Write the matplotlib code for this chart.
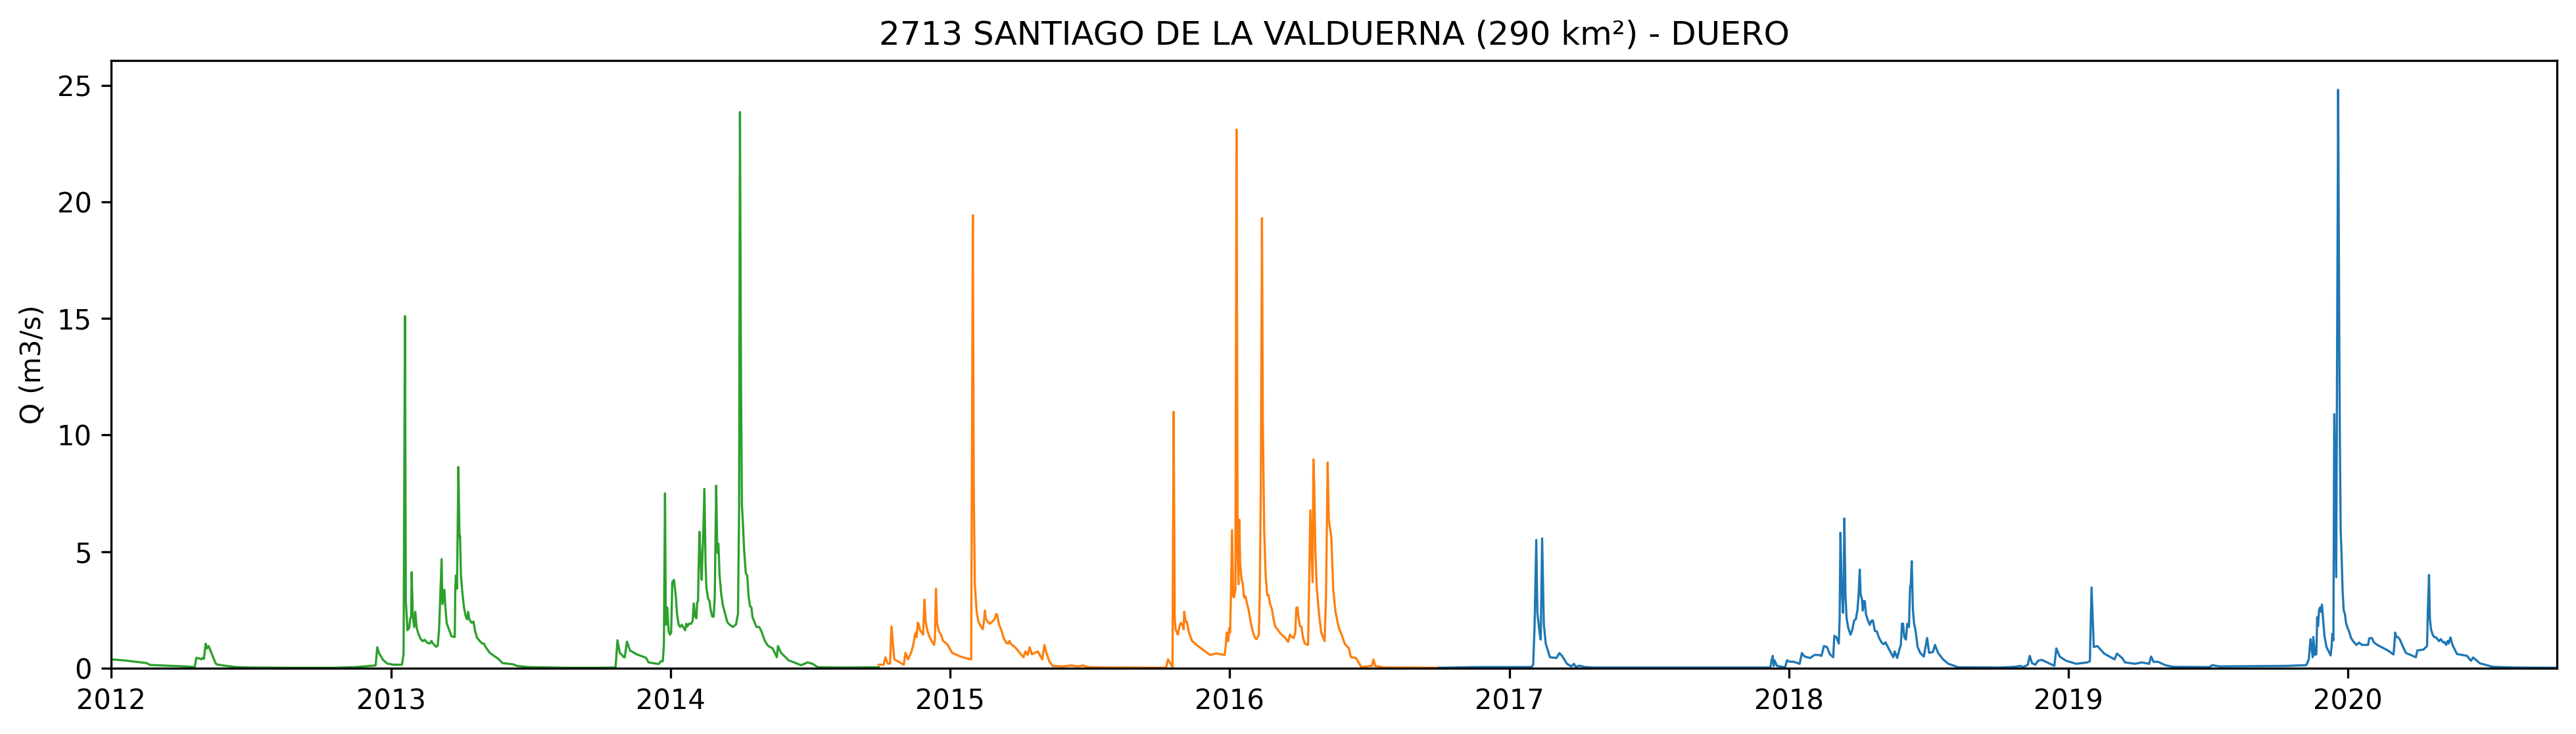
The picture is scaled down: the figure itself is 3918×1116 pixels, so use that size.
import matplotlib
matplotlib.use("Agg")
import matplotlib.pyplot as plt
import matplotlib.dates as mdates
import numpy as np
import pandas as pd

TITLE = "2713 SANTIAGO DE LA VALDUERNA (290 km²) - DUERO"
YLABEL = "Q (m3/s)"

# Decimal years and discharge
green_t = [2012.000,2012.052,2012.127,2012.139,2012.202,2012.262,2012.299,2012.305,2012.316,2012.322,2012.328,2012.332,2012.338,2012.343,2012.349,2012.359,2012.374,2012.382,2012.412,2012.449,2012.501,2012.651,2012.801,2012.876,2012.946,2012.952,2012.958,2012.973,2012.988,2013.010,2013.040,
2013.046,2013.051,2013.054,2013.060,2013.066,2013.070,2013.073,2013.075,2013.079,2013.084,2013.088,2013.093,2013.099,2013.107,2013.115,2013.121,2013.131,2013.140,2013.146,2013.151,2013.162,2013.168,2013.173,2013.182,2013.185,2013.192,2013.195,2013.200,2013.205,2013.211,2013.217,2013.229,2013.231,2013.233,2013.237,2013.242,2013.246,2013.248,2013.251,2013.256,2013.262,2013.268,2013.273,2013.277,2013.281,2013.289,2013.296,2013.302,2013.309,2013.319,2013.327,2013.333,2013.340,2013.355,2013.385,2013.400,2013.437,2013.452,2013.490,2013.624,2013.744,2013.804,
2013.811,2013.819,2013.834,2013.837,2013.845,2013.856,2013.879,2013.913,2013.922,2013.958,2013.966,2013.973,2013.977,2013.981,2013.984,2013.986,2013.989,2013.994,2013.999,2014.003,2014.007,2014.013,2014.019,2014.024,2014.030,2014.035,2014.041,2014.047,2014.053,2014.057,2014.061,2014.067,2014.075,2014.080,2014.084,2014.088,2014.093,2014.096,2014.099,2014.104,2014.108,2014.112,2014.118,2014.122,2014.126,2014.129,2014.135,2014.140,2014.144,2014.150,2014.155,2014.159,2014.164,2014.168,2014.172,2014.176,2014.182,2014.188,2014.196,2014.204,2014.213,2014.224,2014.235,2014.242,2014.246,2014.249,2014.253,2014.256,2014.259,2014.264,2014.270,2014.275,2014.280,2014.285,2014.290,2014.294,2014.302,2014.308,2014.318,2014.326,2014.337,2014.347,2014.351,2014.366,2014.381,2014.385,2014.396,2014.423,2014.468,2014.491,2014.509,2014.528,2014.618,2014.745]
green_q = [0.38,0.33,0.22,0.14,0.11,0.08,0.05,0.45,0.42,0.38,0.45,0.40,1.05,0.85,0.95,0.65,0.20,0.15,0.10,0.05,0.03,0.02,0.02,0.05,0.12,0.90,0.65,0.35,0.20,0.15,0.15,
0.60,15.1,2.9,1.63,1.72,2.14,2.19,4.12,2.24,1.77,2.42,1.72,1.48,1.25,1.16,1.22,1.09,1.06,1.17,1.06,0.92,0.97,1.67,4.68,2.75,3.36,2.70,1.95,1.77,1.58,1.37,1.34,3.41,3.97,3.41,8.63,5.60,5.67,4.02,3.27,2.61,2.24,2.10,2.42,2.10,1.95,2.00,1.58,1.30,1.16,1.06,1.06,0.90,0.65,0.40,0.22,0.17,0.10,0.05,0.02,0.02,0.03,
1.20,0.67,0.47,0.47,1.14,0.76,0.60,0.45,0.25,0.18,0.30,0.30,1.00,7.50,1.86,2.60,2.60,1.58,1.44,1.53,3.69,3.79,3.18,2.33,1.86,1.77,1.86,1.75,1.63,1.91,1.79,1.91,1.91,2.03,2.78,2.24,2.14,2.80,2.89,5.85,4.77,3.79,5.90,7.69,4.49,3.46,2.99,2.89,2.52,2.22,2.21,3.08,7.83,4.96,5.34,4.02,3.18,2.70,2.33,1.97,1.86,1.77,1.88,2.33,6.84,23.85,12.0,7.0,6.37,5.06,4.07,3.98,3.08,2.66,2.61,2.19,1.95,1.77,1.77,1.58,1.20,1.00,0.95,0.85,0.47,0.95,0.66,0.34,0.13,0.25,0.19,0.04,0.03,0.04]

orange_t = [2014.745,2014.763,2014.769,2014.778,2014.786,2014.791,2014.801,2014.835,2014.841,2014.850,2014.861,2014.869,2014.875,2014.878,2014.881,2014.885,2014.888,2014.893,2014.899,2014.904,2014.909,2014.913,2014.919,2014.927,2014.935,2014.943,2014.946,2014.950,2014.954,2014.961,2014.968,2014.976,2014.984,2014.992,2015.008,2015.038,2015.060,2015.076,2015.082,2015.085,2015.089,2015.092,2015.096,2015.102,2015.110,2015.117,2015.121,2015.125,2015.129,2015.137,2015.143,2015.154,2015.161,2015.165,2015.169,2015.176,2015.183,2015.192,2015.201,2015.208,2015.213,2015.219,2015.233,2015.263,2015.270,2015.278,2015.285,2015.293,2015.314,2015.330,2015.338,2015.345,2015.356,2015.368,2015.405,2015.435,2015.458,2015.476,2015.492,2015.548,2015.773,2015.780,2015.796,2015.800,2015.804,2015.807,2015.815,2015.821,2015.826,2015.831,2015.836,2015.838,2015.843,2015.847,2015.855,2015.866,2015.882,2015.930,2015.953,2015.983,2015.987,2015.990,2015.995,2015.999,2016.002,2016.005,2016.009,2016.013,2016.016,2016.021,2016.025,2016.029,2016.032,2016.035,2016.038,2016.043,2016.047,2016.052,2016.057,2016.063,2016.068,2016.076,2016.083,2016.091,2016.097,2016.105,2016.108,2016.112,2016.116,2016.119,2016.124,2016.129,2016.135,2016.140,2016.144,2016.152,2016.157,2016.163,2016.171,2016.183,2016.199,2016.210,2016.216,2016.222,2016.230,2016.235,2016.239,2016.243,2016.247,2016.252,2016.257,2016.263,2016.269,2016.281,2016.284,2016.289,2016.297,2016.300,2016.303,2016.307,2016.312,2016.320,2016.328,2016.334,2016.340,2016.345,2016.351,2016.355,2016.364,2016.371,2016.379,2016.391,2016.401,2016.412,2016.427,2016.434,2016.452,2016.472,2016.502,2016.509,2016.515,2016.521,2016.554,2016.749]
orange_q = [0.15,0.15,0.47,0.20,0.20,1.79,0.38,0.15,0.66,0.38,0.66,1.00,1.44,1.53,1.34,1.95,1.90,1.63,1.53,1.44,2.94,2.00,1.63,1.34,1.16,1.00,1.20,3.41,1.91,1.58,1.44,1.16,1.10,1.00,0.66,0.50,0.42,0.38,19.43,8.0,3.60,3.08,2.38,2.00,1.81,1.67,1.95,2.47,2.10,1.97,1.91,2.03,2.14,2.33,2.28,1.86,1.67,1.30,1.10,1.06,1.17,1.03,0.90,0.47,0.72,0.57,0.90,0.60,0.72,0.38,1.00,0.66,0.28,0.10,0.08,0.12,0.08,0.12,0.05,0.03,0.02,0.38,0.05,11.0,2.14,1.67,1.44,1.81,1.95,1.86,1.67,2.42,2.00,2.00,1.53,1.17,1.00,0.57,0.63,0.57,1.06,1.53,1.16,1.72,1.53,3.08,5.92,3.08,3.04,3.36,23.1,4.96,3.60,6.37,4.49,3.79,3.65,3.04,3.08,2.75,2.52,1.95,1.58,1.30,1.25,1.44,3.08,7.78,19.3,10.6,5.90,4.02,3.13,3.13,2.80,2.52,2.14,1.80,1.67,1.48,1.30,1.13,1.44,1.34,1.30,1.53,2.59,2.61,2.14,1.81,1.77,1.30,1.06,1.00,3.08,6.77,3.69,8.96,7.78,5.06,3.46,2.33,1.53,1.34,1.16,3.08,8.82,6.37,5.62,3.36,2.42,1.72,1.44,1.05,0.85,0.47,0.44,0.04,0.10,0.10,0.38,0.10,0.03,0.02]

blue_t = [2016.749,2016.884,2017.079,2017.086,2017.091,2017.097,2017.101,2017.109,2017.113,2017.118,2017.124,2017.131,2017.146,2017.169,2017.180,2017.189,2017.207,2017.222,2017.232,2017.238,2017.252,2017.267,2017.297,2017.934,2017.938,2017.943,2017.946,2017.949,2017.958,2017.987,2017.994,2018.002,2018.017,2018.039,2018.047,2018.057,2018.077,2018.092,2018.107,2018.117,2018.126,2018.137,2018.147,2018.159,2018.163,2018.170,2018.179,2018.182,2018.185,2018.189,2018.194,2018.197,2018.199,2018.203,2018.207,2018.213,2018.221,2018.227,2018.234,2018.240,2018.246,2018.250,2018.254,2018.257,2018.262,2018.265,2018.268,2018.272,2018.276,2018.283,2018.290,2018.295,2018.301,2018.308,2018.315,2018.323,2018.333,2018.340,2018.346,2018.361,2018.374,2018.379,2018.388,2018.397,2018.401,2018.405,2018.409,2018.413,2018.419,2018.424,2018.430,2018.434,2018.436,2018.440,2018.444,2018.448,2018.454,2018.461,2018.470,2018.483,2018.495,2018.502,2018.516,2018.523,2018.534,2018.552,2018.571,2018.607,2018.754,2018.809,2018.828,2018.840,2018.855,2018.862,2018.870,2018.882,2018.892,2018.905,2018.928,2018.950,2018.957,2018.969,2018.992,2019.028,2019.068,2019.077,2019.083,2019.088,2019.091,2019.104,2019.128,2019.165,2019.174,2019.192,2019.203,2019.238,2019.263,2019.289,2019.296,2019.305,2019.320,2019.347,2019.375,2019.504,2019.515,2019.540,2019.778,2019.851,2019.860,2019.866,2019.874,2019.876,2019.882,2019.887,2019.890,2019.893,2019.897,2019.901,2019.904,2019.907,2019.911,2019.916,2019.923,2019.938,2019.942,2019.944,2019.948,2019.951,2019.958,2019.965,2019.969,2019.971,2019.974,2019.977,2019.981,2019.985,2019.989,2019.993,2019.999,2020.004,2020.011,2020.018,2020.030,2020.040,2020.050,2020.072,2020.076,2020.085,2020.093,2020.105,2020.143,2020.163,2020.166,2020.169,2020.173,2020.178,2020.185,2020.195,2020.207,2020.243,2020.248,2020.270,2020.283,2020.286,2020.290,2020.293,2020.297,2020.303,2020.308,2020.315,2020.326,2020.332,2020.340,2020.345,2020.351,2020.357,2020.360,2020.367,2020.371,2020.375,2020.390,2020.426,2020.440,2020.448,2020.472,2020.518,2020.600,2020.745]
blue_q = [0.02,0.05,0.05,0.15,1.80,5.50,2.37,1.52,1.23,5.57,1.90,1.05,0.47,0.44,0.65,0.53,0.19,0.08,0.19,0.06,0.11,0.06,0.03,0.03,0.30,0.53,0.10,0.34,0.10,0.04,0.34,0.28,0.28,0.19,0.65,0.50,0.44,0.57,0.57,0.53,0.95,0.91,0.60,0.47,1.39,1.34,1.06,2.14,5.81,3.55,2.38,4.02,6.42,3.08,2.14,1.72,1.44,1.63,2.05,2.10,2.52,3.18,4.23,3.18,2.94,2.47,2.88,2.88,2.33,2.05,1.86,2.03,2.05,1.60,1.58,1.30,1.09,1.03,1.11,0.76,0.47,0.72,0.44,0.85,1.00,1.91,1.91,1.34,1.23,1.91,1.77,3.50,3.50,4.59,2.52,1.95,1.58,0.91,0.66,0.50,1.30,0.66,0.70,1.00,0.66,0.38,0.19,0.04,0.03,0.06,0.10,0.05,0.15,0.53,0.22,0.15,0.32,0.36,0.23,0.10,0.85,0.50,0.32,0.19,0.25,0.30,3.46,1.90,0.91,0.95,0.63,0.38,0.63,0.44,0.25,0.19,0.25,0.19,0.50,0.27,0.28,0.13,0.06,0.05,0.13,0.08,0.10,0.13,0.38,1.25,0.47,1.34,0.57,0.60,2.19,1.81,2.52,2.61,2.42,2.73,2.14,1.39,0.92,0.55,1.00,1.48,1.20,10.9,3.90,24.8,14.0,10.0,5.90,4.96,3.27,2.47,2.33,1.95,1.72,1.58,1.30,1.17,1.00,1.10,1.00,1.00,1.28,1.30,1.11,1.00,0.76,0.59,1.00,1.53,1.34,1.34,1.25,0.97,0.66,0.47,0.76,0.80,0.95,2.60,4.00,2.14,1.67,1.44,1.34,1.32,1.16,1.25,1.11,1.13,1.00,1.17,1.06,1.32,1.11,0.97,0.61,0.53,0.32,0.46,0.21,0.06,0.03,0.02]

SERIES = [(green_t, green_q, "tab:green"),
          (orange_t, orange_q, "tab:orange"),
          (blue_t, blue_q, "tab:blue")]


def to_dates(years):
    days = (np.asarray(years) - 2012.0) * 365.25
    return pd.Timestamp("2012-01-01") + pd.to_timedelta(days, unit="D")


W, H = 3918, 1116
fig = plt.figure(figsize=(W / 300, H / 300), dpi=300)
ax = fig.add_axes([169 / W, (H - 1016) / H, 3720 / W, 924 / H])

for t, q, colour in SERIES:
    ax.plot(to_dates(t), q, color=colour, linewidth=0.8)

ax.set_xlim(pd.Timestamp("2012-01-01"), pd.Timestamp("2020-09-30"))
ax.set_ylim(0, 26.06)
ax.xaxis.set_major_locator(mdates.YearLocator())
ax.xaxis.set_major_formatter(mdates.DateFormatter("%Y"))
ax.set_title(TITLE)
ax.set_ylabel(YLABEL)

fig.savefig("out.png", dpi=300)
